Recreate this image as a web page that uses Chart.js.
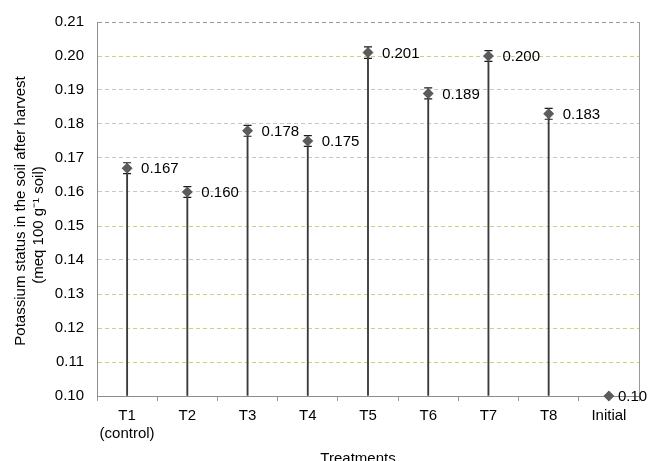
<!DOCTYPE html>
<html>
<head>
<meta charset="utf-8">
<script src="https://cdn.jsdelivr.net/npm/chart.js@4.4.1/dist/chart.umd.min.js"></script>
<style>
html,body{margin:0;padding:0;background:#fff;}
#wrap{width:653px;height:461px;}
</style>
</head>
<body>
<div id="wrap"><canvas id="c" width="653" height="461"></canvas></div>
<script>
const categories = [['T1', '(control)'], 'T2', 'T3', 'T4', 'T5', 'T6', 'T7', 'T8', 'Initial'];
const treatmentValues = [0.167, 0.160, 0.178, 0.175, 0.201, 0.189, 0.200, 0.183, null];
const initialValues = [null, null, null, null, null, null, null, null, 0.10];
const errorValues = [0.0016, 0.0016, 0.0016, 0.0016, 0.0017, 0.0016, 0.0016, 0.0016, null];
const valueLabels = ['0.167', '0.160', '0.178', '0.175', '0.201', '0.189', '0.200', '0.183', '0.10'];
const yMin = 0.10, yMax = 0.21, yStep = 0.01;
const yTitleLines = ['Potassium status in the soil after harvest', '(meq 100 g\u207B\u00B9 soil)'];
const xTitle = 'Treatments';

const FONT = "'Liberation Sans', Arial, sans-serif";

const errorBarPlugin = {
  id: 'errorBars',
  beforeDatasetsDraw(chart) {
    const {ctx, scales: {x, y}} = chart;
    ctx.save();
    ctx.strokeStyle = '#1a1a1a';
    ctx.lineWidth = 1.2;
    treatmentValues.forEach((v, i) => {
      if (v == null || errorValues[i] == null) return;
      const px = x.getPixelForValue(i);
      const yt = y.getPixelForValue(v + errorValues[i]);
      const yb = y.getPixelForValue(v - errorValues[i]);
      ctx.beginPath();
      ctx.moveTo(px, yt); ctx.lineTo(px, yb);
      ctx.moveTo(px - 4, yt); ctx.lineTo(px + 4, yt);
      ctx.moveTo(px - 4, yb); ctx.lineTo(px + 4, yb);
      ctx.stroke();
    });
    ctx.restore();
  }
};

const labelPlugin = {
  id: 'valueLabels',
  afterDatasetsDraw(chart) {
    const {ctx, scales: {x, y}} = chart;
    ctx.save();
    ctx.font = '15px ' + FONT;
    ctx.fillStyle = '#000';
    ctx.textAlign = 'left';
    ctx.textBaseline = 'middle';
    categories.forEach((c, i) => {
      const isInitial = treatmentValues[i] == null;
      const v = isInitial ? initialValues[i] : treatmentValues[i];
      if (v == null) return;
      ctx.fillText(valueLabels[i], x.getPixelForValue(i) + (isInitial ? 9 : 14), y.getPixelForValue(v) + 1);
    });
    ctx.restore();
  }
};

const titlePlugin = {
  id: 'axisTitles',
  afterDraw(chart) {
    const {ctx} = chart;
    ctx.save();
    ctx.fillStyle = '#000';
    ctx.font = '15px ' + FONT;
    ctx.textAlign = 'center';
    ctx.textBaseline = 'middle';
    ctx.save();
    ctx.translate(21, 211);
    ctx.rotate(-Math.PI / 2);
    ctx.fillText(yTitleLines[0], 0, 0);
    ctx.restore();
    ctx.save();
    ctx.translate(39, 225);
    ctx.rotate(-Math.PI / 2);
    ctx.fillText(yTitleLines[1], 0, 0);
    ctx.restore();
    ctx.fillText(xTitle, 358, 459);
    ctx.restore();
  }
};

new Chart(document.getElementById('c'), {
  data: {
    labels: categories,
    datasets: [
      {
        type: 'bar',
        data: treatmentValues,
        base: yMin,
        barThickness: 1.2,
        backgroundColor: '#3a3a3a',
        borderWidth: 0,
        order: 2
      },
      {
        type: 'line',
        data: treatmentValues,
        showLine: false,
        pointStyle: 'rectRot',
        pointRadius: 5.5,
        pointBackgroundColor: '#5c5c5c',
        pointBorderColor: '#5c5c5c',
        pointBorderWidth: 0,
        clip: false,
        order: 1
      },
      {
        type: 'line',
        data: initialValues,
        showLine: false,
        pointStyle: 'rectRot',
        pointRadius: 5.5,
        pointBackgroundColor: '#5c5c5c',
        pointBorderColor: '#5c5c5c',
        pointBorderWidth: 0,
        clip: false,
        order: 0
      }
    ]
  },
  options: {
    responsive: false,
    animation: false,
    devicePixelRatio: 1,
    layout: {padding: {top: 20, right: 14, left: 0, bottom: 0}},
    plugins: {legend: {display: false}, tooltip: {enabled: false}},
    scales: {
      x: {
        type: 'category',
        offset: true,
        grid: {
          offset: true,
          drawOnChartArea: true,
          color: (ctx) => ctx.type === 'tick' ? 'rgba(0,0,0,0)' : '#9a9a9a',
          tickColor: '#9a9a9a',
          tickLength: 5,
          lineWidth: 1
        },
        border: {display: true, color: '#8c8c8c', width: 1},
        ticks: {
          color: '#000',
          font: {family: FONT, size: 15},
          padding: 6,
          maxRotation: 0,
          autoSkip: false
        },
        afterFit(scale) { scale.height = 65; }
      },
      y: {
        type: 'linear',
        min: yMin,
        max: yMax,
        grid: {
          color: (ctx) => {
            const v = ctx.tick ? ctx.tick.value : 0;
            if (v >= yMax - 1e-6) return '#9a9a9a';
            if (v <= yMin + 1e-6) return 'rgba(0,0,0,0)';
            return '#cfc9a0';
          },
          drawTicks: false,
          lineWidth: 1
        },
        border: {display: true, color: '#8c8c8c', width: 1, dash: [4, 3]},
        ticks: {
          stepSize: yStep,
          color: '#000',
          font: {family: FONT, size: 15},
          padding: 13,
          callback: (v) => Number(v).toFixed(2)
        },
        afterFit(scale) { scale.width = 97; }
      }
    }
  },
  plugins: [errorBarPlugin, labelPlugin, titlePlugin]
});
</script>
</body>
</html>
